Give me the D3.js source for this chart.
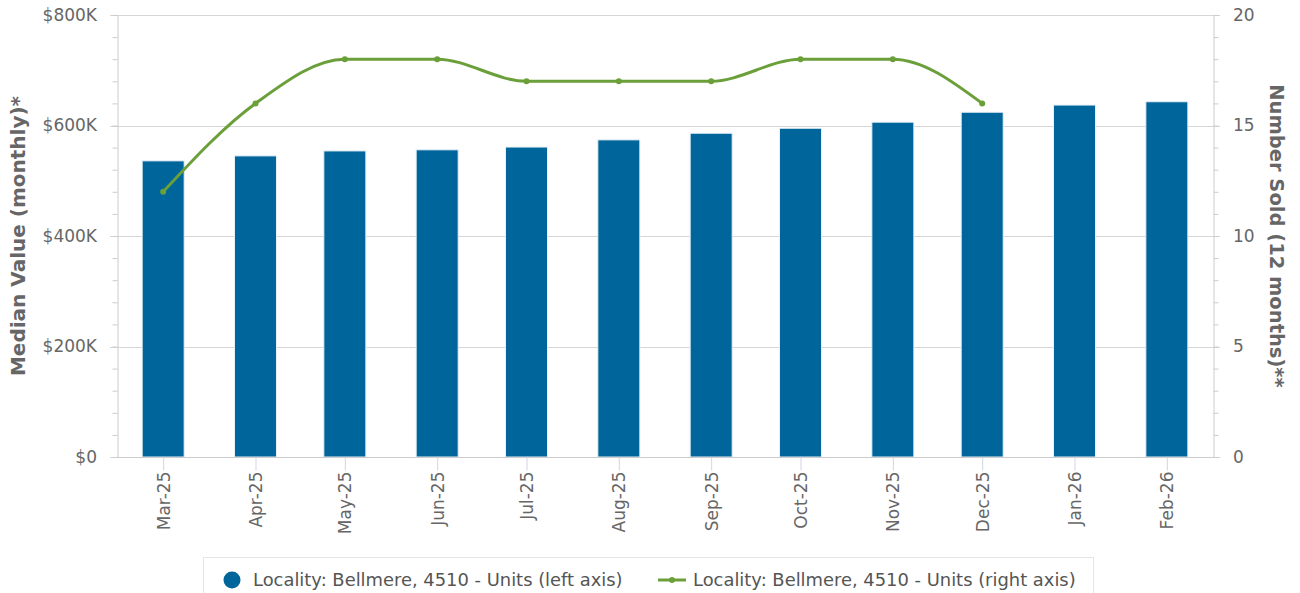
<!DOCTYPE html>
<html>
<head>
<meta charset="utf-8">
<script src="https://cdn.jsdelivr.net/npm/d3@7"></script>
<style>
  body { margin: 0; background: #fff; }
  svg { display: block; font-family: 'DejaVu Sans', sans-serif; }
</style>
</head>
<body>
<svg class="chartSvg"></svg>
<script>
// month starts (year, month index) and their axis labels
const months = [[2025, 2], [2025, 3], [2025, 4], [2025, 5], [2025, 6], [2025, 7], [2025, 8], [2025, 9], [2025, 10], [2025, 11], [2026, 0], [2026, 1]];
const monthLabels = ['Mar-25', 'Apr-25', 'May-25', 'Jun-25', 'Jul-25', 'Aug-25', 'Sep-25', 'Oct-25', 'Nov-25', 'Dec-25', 'Jan-26', 'Feb-26'];
const medianValue = [536000, 545000, 554000, 556000, 561000, 574000, 586000, 595000, 606000, 624000, 637000, 643000];
const numberSold = [12, 16, 18, 18, 17, 17, 17, 18, 18, 16, null, null];
const leftTicks = [0, 200000, 400000, 600000, 800000];
const rightTicks = [0, 5, 10, 15, 20];
const legendLabels = ['Locality: Bellmere, 4510 - Units (left axis)', 'Locality: Bellmere, 4510 - Units (right axis)'];

const width = 1300;
const height = 593;
const plot = { left: 117, right: 1213, top: 15, bottom: 457 };
const barColor = '#00659a';
const lineColor = '#6a9f3a';
const DAY = 86400000;

let dates = months.map((m) => new Date(Date.UTC(m[0], m[1], 1)));
let data = dates.map((d, i) => ({ date: d, label: monthLabels[i], value: medianValue[i], sold: numberSold[i] }));

let svg = d3.select('.chartSvg').attr('width', width).attr('height', height);

// time axis, half a month of padding on each end
let x = d3
  .scaleUtc()
  .domain([new Date(+dates[0] - 15.5 * DAY), new Date(+dates[dates.length - 1] + 15.5 * DAY)])
  .range([plot.left, plot.right]);

let yLeft = d3.scaleLinear().domain([0, 800000]).range([plot.bottom, plot.top]);
let yRight = d3.scaleLinear().domain([0, 20]).range([plot.bottom, plot.top]);

// gridlines
svg
  .append('g')
  .selectAll('line')
  .data(leftTicks)
  .enter()
  .append('line')
  .attr('x1', plot.left - 7)
  .attr('x2', plot.right + 7)
  .attr('y1', (d) => Math.round(yLeft(d)) + 0.5)
  .attr('y2', (d) => Math.round(yLeft(d)) + 0.5)
  .attr('stroke', '#d6d6d6');

// left axis with minor ticks
let leftAxis = svg.append('g').attr('transform', `translate(${plot.left + 0.5},0)`);
leftAxis
  .call(d3.axisLeft(yLeft).tickValues(d3.range(0, 800001, 40000)).tickSize(5).tickFormat(''))
  .call((g) => g.select('.domain').attr('stroke', '#ccc'))
  .call((g) => g.selectAll('.tick line').attr('stroke', '#ccc'));
svg
  .append('g')
  .attr('transform', `translate(${plot.left - 17},0)`)
  .call(d3.axisLeft(yLeft).tickValues(leftTicks).tickSize(0).tickFormat((d) => '$' + (d === 0 ? '0' : d / 1000 + 'K')))
  .call((g) => g.select('.domain').remove())
  .call((g) => g.selectAll('text').attr('fill', '#666').attr('font-size', 17).attr('font-family', 'DejaVu Sans'));

// right axis with minor ticks
let rightAxis = svg.append('g').attr('transform', `translate(${plot.right + 0.5},0)`);
rightAxis
  .call(d3.axisRight(yRight).tickValues(d3.range(0, 21, 1)).tickSize(5).tickFormat(''))
  .call((g) => g.select('.domain').attr('stroke', '#ccc'))
  .call((g) => g.selectAll('.tick line').attr('stroke', '#ccc'));
svg
  .append('g')
  .attr('transform', `translate(${plot.right + 17},0)`)
  .call(d3.axisRight(yRight).tickValues(rightTicks).tickSize(0))
  .call((g) => g.select('.domain').remove())
  .call((g) => g.selectAll('text').attr('fill', '#666').attr('font-size', 17).attr('font-family', 'DejaVu Sans'));

// bars
let barWidth = 42;
svg
  .append('g')
  .selectAll('.bar')
  .data(data)
  .enter()
  .append('rect')
  .classed('bar', true)
  .attr('x', (d) => x(d.date) - barWidth / 2)
  .attr('y', (d) => yLeft(d.value))
  .attr('width', barWidth)
  .attr('height', (d) => plot.bottom - yLeft(d.value))
  .attr('fill', barColor)
  .attr('stroke', '#e6f0f7')
  .attr('stroke-width', 1);

// x axis
let xAxis = svg.append('g').attr('transform', `translate(0,${plot.bottom + 0.5})`);
xAxis
  .call(d3.axisBottom(x).tickValues(dates).tickSize(13).tickFormat((d, i) => monthLabels[i]))
  .call((g) => g.select('.domain').attr('stroke', '#ccc').attr('d', `M${plot.left},0H${plot.right}`))
  .call((g) => g.selectAll('.tick line').attr('stroke', '#ccd6eb'))
  .call((g) =>
    g
      .selectAll('text')
      .attr('fill', '#666')
      .attr('font-size', 17)
      .attr('font-family', 'DejaVu Sans')
      .attr('transform', 'rotate(-90)')
      .attr('text-anchor', 'end')
      .attr('x', -14)
      .attr('y', 0)
      .attr('dy', '0.35em')
  );

// spline line for number sold
let soldData = data.filter((d) => d.sold !== null);
let line = d3
  .line()
  .x((d) => x(d.date))
  .y((d) => yRight(d.sold))
  .curve(d3.curveMonotoneX);
svg
  .append('path')
  .datum(soldData)
  .attr('d', line)
  .attr('fill', 'none')
  .attr('stroke', lineColor)
  .attr('stroke-width', 3);
svg
  .append('g')
  .selectAll('circle')
  .data(soldData)
  .enter()
  .append('circle')
  .attr('cx', (d) => x(d.date))
  .attr('cy', (d) => yRight(d.sold))
  .attr('r', 3)
  .attr('fill', lineColor);

// axis titles
svg
  .append('text')
  .attr('transform', `translate(25,${(plot.top + plot.bottom) / 2}) rotate(-90)`)
  .attr('text-anchor', 'middle')
  .attr('fill', '#666')
  .attr('font-weight', 'bold')
  .attr('font-size', 20)
  .text('Median Value (monthly)*');
svg
  .append('text')
  .attr('transform', `translate(1270,${(plot.top + plot.bottom) / 2}) rotate(90)`)
  .attr('text-anchor', 'middle')
  .attr('fill', '#666')
  .attr('font-weight', 'bold')
  .attr('font-size', 19.5)
  .text('Number Sold (12 months)**');

// legend
let legend = svg.append('g');
legend
  .append('rect')
  .attr('x', 203.5)
  .attr('y', 557.5)
  .attr('width', 890)
  .attr('height', 60)
  .attr('fill', '#fff')
  .attr('stroke', '#e6e6e6');
legend.append('circle').attr('cx', 232).attr('cy', 580).attr('r', 8.5).attr('fill', barColor);
legend
  .append('text')
  .attr('x', 253)
  .attr('y', 580)
  .attr('dy', '0.35em')
  .attr('fill', '#555')
  .attr('font-size', 17.9)
  .text(legendLabels[0]);
legend
  .append('line')
  .attr('x1', 658)
  .attr('x2', 686)
  .attr('y1', 580)
  .attr('y2', 580)
  .attr('stroke', lineColor)
  .attr('stroke-width', 3);
legend.append('circle').attr('cx', 672).attr('cy', 580).attr('r', 3).attr('fill', lineColor);
legend
  .append('text')
  .attr('x', 693)
  .attr('y', 580)
  .attr('dy', '0.35em')
  .attr('fill', '#555')
  .attr('font-size', 17.9)
  .text(legendLabels[1]);
</script>
</body>
</html>
